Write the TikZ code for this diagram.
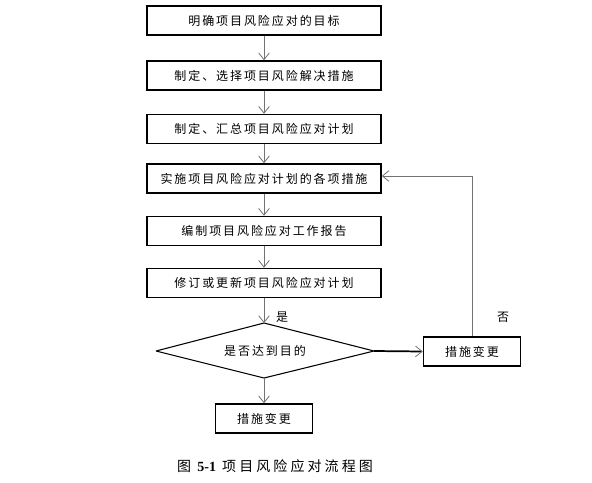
\documentclass[tikz,border=0pt]{standalone}
\usepackage{fontspec}
\usetikzlibrary{arrows.meta}
\newfontfamily\cjk[LetterSpace=16]{Noto Sans CJK SC}
\newfontfamily\capcjk[LetterSpace=22]{Noto Sans CJK SC}
\newfontfamily\capfont{Liberation Serif}
\tikzset{
  stepbox/.style={draw=black,line width=1.1pt,inner sep=0pt,minimum height=21.75pt,font=\cjk\fontsize{9pt}{10pt}\selectfont},
  flow/.style={draw=black!55,line width=0.6pt,-{Straight Barb[length=5pt,width=8pt,line width=0.6pt]}},
  lbl/.style={font=\cjk\fontsize{9pt}{10pt}\selectfont,inner sep=0pt}
}
\begin{document}
\begin{tikzpicture}[x=0.75pt,y=-0.75pt]
\useasboundingbox[fill=white] (0,0) rectangle (592,482);
\node[stepbox,minimum width=175.5pt] (b1) at (264,20.5) {明确项目风险应对的目标};
\node[stepbox,minimum width=175.5pt] (b2) at (264,75.5) {制定、选择项目风险解决措施};
\node[stepbox,minimum width=175.5pt] (b3) at (264,129) {制定、汇总项目风险应对计划};
\node[stepbox,minimum width=175.5pt] (b4) at (264,178.5) {实施项目风险应对计划的各项措施};
\node[stepbox,minimum width=175.5pt] (b5) at (264,231) {编制项目风险应对工作报告};
\node[stepbox,minimum width=175.5pt] (b6) at (264,283) {修订或更新项目风险应对计划};
\coordinate (dt) at (264,323);
\coordinate (dr) at (374,351);
\coordinate (db) at (264,378);
\coordinate (dl) at (156,351);
\draw[black,line width=0.8pt,miter limit=2] (dt) -- (dr) -- (db) -- (dl) -- cycle;
\node[lbl] (d) at (265,351) {是否达到目的};
\node[stepbox,minimum width=72.75pt] (r) at (472,351.5) {措施变更};
\node[stepbox,minimum width=72.75pt] (e) at (264,418.5) {措施变更};
\coordinate (c1) at (472,176);
\draw[flow] (b1) -- (b2);
\draw[flow] (b2) -- (b3);
\draw[flow] (b3) -- (b4);
\draw[flow] (b4) -- (b5);
\draw[flow] (b5) -- (b6);
\draw[flow] (b6) -- (dt);
\draw[flow] (db) -- (e);
\draw[draw=black,line width=1.3pt,-{Straight Barb[length=5pt,width=8pt,line width=0.6pt,color=black!55]}] (dr) -- (r.west);
\draw[flow] (r.north) -- (c1) -- (c1 -| b4.east);
\node[lbl] (yes) at (282,317) {是};
\node[lbl] (no) at (503,317) {否};
\node[inner sep=0pt,font=\capcjk\fontsize{10.5pt}{12pt}\selectfont] (cap) at (275,466) {图 {\capfont\bfseries 5-1} 项目风险应对流程图};
\end{tikzpicture}
\end{document}
